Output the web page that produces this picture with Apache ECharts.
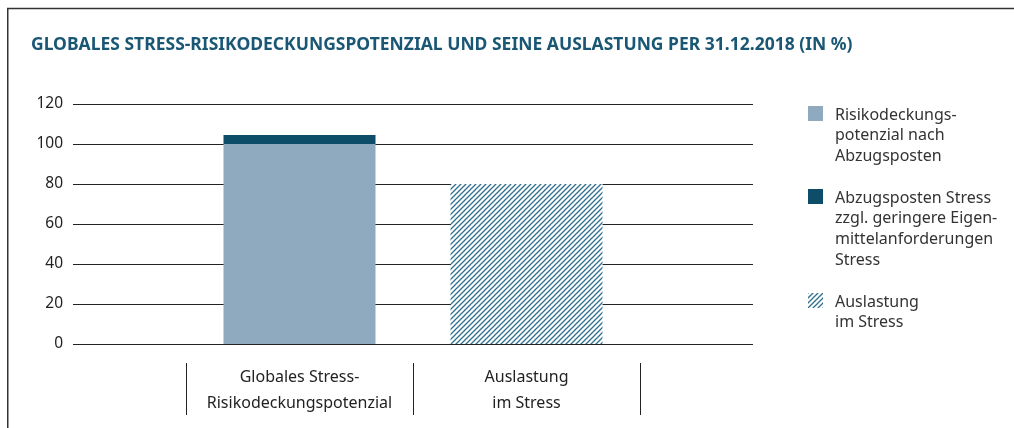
<!DOCTYPE html>
<html>
<head>
<meta charset="utf-8">
<script src="https://cdn.jsdelivr.net/npm/echarts@6/dist/echarts.min.js"></script>
<style>
  html, body { margin: 0; padding: 0; background: #fff; }
  #chart { width: 1014px; height: 428px; }
</style>
</head>
<body>
<div id="chart"></div>
<script>
// data
const categories = ['Globales Stress-\nRisikodeckungspotenzial', 'Auslastung\nim Stress']
const rdpNachAbzug = [100, '-']
const abzugsposten = [4.5, '-']
const auslastung = ['-', 80]
const yTicks = { min: 0, max: 120, interval: 20 }
const legendLabels = [
  'Risikodeckungs-\npotenzial nach\nAbzugsposten',
  'Abzugsposten Stress\nzzgl. geringere Eigen-\nmittelanforderungen\nStress',
  'Auslastung\nim Stress'
]

const FONT = '"Noto Sans", sans-serif'
const LIGHT = '#8fa9be'
const DARK = '#0d4d6a'
const HATCH = '#2f6f8e'

// diagonal hatch pattern
function hatch() {
  const c = document.createElement('canvas')
  c.width = 5; c.height = 5
  const g = c.getContext('2d')
  g.fillStyle = '#fff'
  g.fillRect(0, 0, 5, 5)
  g.strokeStyle = HATCH
  g.lineWidth = 1.3
  g.beginPath()
  g.moveTo(-1, 6); g.lineTo(6, -1)
  g.moveTo(-1, 1); g.lineTo(1, -1)
  g.moveTo(4, 6); g.lineTo(6, 4)
  g.stroke()
  return c
}
const hatchFill = { image: hatch(), repeat: 'repeat' }

const chart = echarts.init(document.getElementById('chart'))

function legendItem(i, y, fill) {
  return [
    { type: 'rect', left: 808, top: y, shape: { width: 15, height: 15 }, style: { fill } },
    {
      type: 'text', left: 835, top: y - 1,
      style: { text: legendLabels[i], font: '16px ' + FONT, fill: '#333', lineHeight: 20.6 }
    }
  ]
}

chart.setOption({
  animation: false,
  textStyle: { fontFamily: FONT },
  title: {
    text: 'GLOBALES STRESS-RISIKODECKUNGSPOTENZIAL UND SEINE AUSLASTUNG PER 31.12.2018 (IN %)',
    left: 26, top: 31,
    textStyle: { fontSize: 17.5, fontWeight: 'bold', color: '#1a5774', fontFamily: FONT }
  },
  grid: [
    { left: 73, right: 261, top: 104, bottom: 84 },
    { left: 186, width: 454, top: 104, bottom: 84 },
    { left: 186, width: 454, top: 363, bottom: 13 }
  ],
  yAxis: [
    {
      gridIndex: 0, type: 'value', ...yTicks,
      axisLine: { show: false }, axisTick: { show: false },
      axisLabel: { fontSize: 15.5, color: '#222', margin: 10 },
      splitLine: { lineStyle: { color: '#222', width: 1 } }
    },
    { gridIndex: 1, type: 'value', ...yTicks, show: false, splitLine: { show: false } },
    { gridIndex: 2, type: 'value', show: false, splitLine: { show: false } }
  ],
  xAxis: [
    { gridIndex: 0, type: 'category', data: categories, show: false },
    {
      gridIndex: 1, type: 'category', data: categories,
      axisLine: { show: false },
      axisTick: { show: false },
      axisLabel: { fontSize: 16, color: '#222', lineHeight: 26, margin: 20, interval: 0 }
    },
    {
      // category separators below the axis
      gridIndex: 2, type: 'category', data: categories,
      axisLine: { show: false }, axisTick: { show: false }, axisLabel: { show: false },
      splitLine: { show: true, interval: 0, lineStyle: { color: '#222', width: 1 } }
    }
  ],
  series: [
    {
      name: legendLabels[0], type: 'bar', xAxisIndex: 1, yAxisIndex: 1, stack: 'all',
      barWidth: 152, data: rdpNachAbzug, itemStyle: { color: LIGHT }
    },
    {
      name: legendLabels[1], type: 'bar', xAxisIndex: 1, yAxisIndex: 1, stack: 'all',
      barWidth: 152, data: abzugsposten, itemStyle: { color: DARK }
    },
    {
      name: legendLabels[2], type: 'bar', xAxisIndex: 1, yAxisIndex: 1, stack: 'all',
      barWidth: 152, data: auslastung, itemStyle: { color: hatchFill }
    }
  ],
  graphic: [
    { type: 'line', shape: { x1: 7, y1: 8.5, x2: 1014, y2: 8.5 }, style: { stroke: '#333', lineWidth: 1.5 } },
    { type: 'line', shape: { x1: 7.75, y1: 8, x2: 7.75, y2: 428 }, style: { stroke: '#333', lineWidth: 1.5 } },
    ...legendItem(0, 106, LIGHT),
    ...legendItem(1, 189, DARK),
    ...legendItem(2, 293, hatchFill)
  ]
})
</script>
</body>
</html>
